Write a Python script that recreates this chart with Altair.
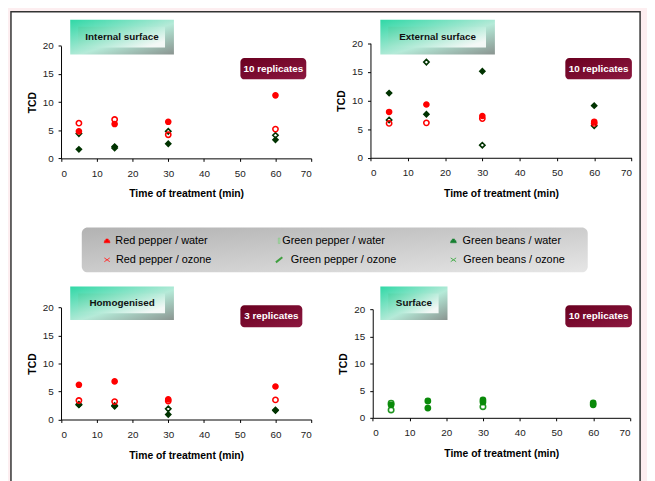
import altair as alt
import pandas as pd

W, H = 647, 473
FONT = "Arial, 'Liberation Sans', sans-serif"

# ---------------- data ----------------
times = [5, 15, 30, 60]

int_rp_water = [4.8, 6.1, 6.5, 11.2]
int_rp_ozone = [6.25, 6.9, 4.2, 5.2]
int_gp_water = [1.6, 2.1, 2.6, 3.3]
int_gp_ozone = [4.4, 1.85, 4.8, 4.1]

ext_rp_water = [8.0, 9.3, 7.3, 6.3]
ext_rp_ozone = [6.0, 6.1, 6.85, 6.0]
ext_gp_water = [11.3, 7.6, 15.1, 9.1]
ext_gp_ozone = [6.6, 16.7, 2.2, 5.6]

hom_rp_water = [6.2, 6.8, 3.6, 5.9]
hom_rp_ozone = [3.4, 3.2, 3.3, 3.5]
hom_gp_water = [2.6, 2.35, 0.9, 1.6]
hom_gp_ozone = [2.7, 2.5, 1.9, 1.7]

surf_gb_water_times = [5, 15, 15, 30, 30, 60, 60]
surf_gb_water = [2.4, 3.1, 1.8, 3.3, 2.9, 2.75, 2.4]
surf_gb_ozone_times = [5, 5, 30]
surf_gb_ozone = [2.7, 1.45, 2.05]

panel_names = ["Internal surface", "External surface", "Homogenised", "Surface"]
replicates = ["10 replicates", "10 replicates", "3 replicates", "10 replicates"]

series_names = ["Red pepper / water", "Green pepper / water", "Green beans / water",
                "Red pepper / ozone", "Green pepper / ozone", "Green beans / ozone"]

rows = []
def add(panel, series, ts, vs):
    for t, v in zip(ts, vs):
        rows.append({"panel": panel, "series": series, "time": t, "tcd": v})

add("Internal surface", "Green pepper / water", times, int_gp_water)
add("Internal surface", "Green pepper / ozone", times, int_gp_ozone)
add("Internal surface", "Red pepper / ozone", times, int_rp_ozone)
add("Internal surface", "Red pepper / water", times, int_rp_water)
add("External surface", "Green pepper / water", times, ext_gp_water)
add("External surface", "Green pepper / ozone", times, ext_gp_ozone)
add("External surface", "Red pepper / ozone", times, ext_rp_ozone)
add("External surface", "Red pepper / water", times, ext_rp_water)
add("Homogenised", "Green pepper / ozone", times, hom_gp_ozone)
add("Homogenised", "Green pepper / water", times, hom_gp_water)
add("Homogenised", "Red pepper / ozone", times, hom_rp_ozone)
add("Homogenised", "Red pepper / water", times, hom_rp_water)
add("Surface", "Green beans / ozone", surf_gb_ozone_times, surf_gb_ozone)
add("Surface", "Green beans / water", surf_gb_water_times, surf_gb_water)
df = pd.DataFrame(rows)

# ---------------- styles ----------------
stroke_range = ["#ff0000", "#003300", "#0a8a0a", "#ff0000", "#003300", "#1f951f"]
fill_range = ["#ff0000", "#003300", "#0a8a0a", "transparent", "transparent", "transparent"]
shape_range = ["circle", "diamond", "circle", "circle", "diamond", "circle"]
size_range = [26, 30, 26, 26, 28, 26]

# panel geometry (view coords): x range, y range (bottom, top)
geom = {
    "Internal surface": ([53.7, 307.0], [149.3, 35.3]),
    "External surface": ([367.0, 631.3], [148.7, 32.7]),
    "Homogenised": ([53.7, 307.0], [413.7, 300.3]),
    "Surface": ([369.3, 629.7], [412.0, 302.0]),
}

axis_common = dict(grid=False, zindex=1, domainColor="#000000", domainWidth=1,
                   tickColor="#000000", tickSize=3, labelFont=FONT, labelFontSize=10,
                   labelColor="#222222", titleFont=FONT, titleFontSize=10.5,
                   titleFontWeight="bold", titleColor="#000000")


def panel_chart(name):
    xr, yr = geom[name]
    d = df[df.panel == name]
    return alt.Chart(d).mark_point(opacity=1, strokeWidth=1.6).encode(
        x=alt.X("time:Q",
                scale=alt.Scale(domain=[0, 70], range=xr, nice=False, zero=False),
                axis=alt.Axis(orient="bottom", offset=yr[0] - H, values=list(range(0, 71, 10)),
                              title="Time of treatment (min)", labelPadding=7, titlePadding=11,
                              **axis_common)),
        y=alt.Y("tcd:Q",
                scale=alt.Scale(domain=[0, 20], range=yr, nice=False, zero=False),
                axis=alt.Axis(orient="left", offset=-xr[0], values=[0, 5, 10, 15, 20],
                              title="TCD", labelPadding=5, titlePadding=5, **axis_common)),
        color=alt.Color("series:N", scale=alt.Scale(domain=series_names, range=stroke_range), legend=None),
        fill=alt.Fill("series:N", scale=alt.Scale(domain=series_names, range=fill_range), legend=None),
        shape=alt.Shape("series:N", scale=alt.Scale(domain=series_names, range=shape_range), legend=None),
        size=alt.Size("series:N", scale=alt.Scale(domain=series_names, range=size_range), legend=None),
    )


one = pd.DataFrame({"v": [0]})

# white framed panel
frame = alt.Chart(one).mark_rect(fill="white", stroke="#333333", strokeWidth=1.5).encode(
    x=alt.value(3), x2=alt.value(640), y=alt.value(0.8), y2=alt.value(490))

# title boxes
tb = pd.DataFrame({
    "label": panel_names,
    "bx": [63.0, 377.0, 63.0, 377.0], "bx2": [168.0, 493.0, 168.0, 445.0],
    "by": [9.0, 9.0, 279.0, 279.0], "by2": [44.0, 44.0, 313.0, 313.0]})

bevel_grad = alt.LinearGradient(gradient="linear", x1=0, y1=0, x2=1, y2=1, stops=[
    alt.GradientStop(color="#2fd8a6", offset=0),
    alt.GradientStop(color="#b5ead8", offset=0.55),
    alt.GradientStop(color="#8a9490", offset=1)])
face_grad = alt.LinearGradient(gradient="linear", x1=0, y1=0, x2=1, y2=0.7, stops=[
    alt.GradientStop(color="#4fd6a8", offset=0),
    alt.GradientStop(color="#f3f8f6", offset=1)])

tb_base = alt.Chart(tb)
tb_outer = tb_base.mark_rect(fill=bevel_grad).encode(
    x=alt.X("bx:Q", scale=None, axis=None), x2="bx2:Q",
    y=alt.Y("by:Q", scale=None, axis=None), y2="by2:Q")
tb_face = tb_base.transform_calculate(
    fx="datum.bx + 8", fx2="datum.bx2 - 9", fy="datum.by + 7", fy2="datum.by2 - 7"
).mark_rect(fill=face_grad).encode(
    x=alt.X("fx:Q", scale=None, axis=None), x2="fx2:Q",
    y=alt.Y("fy:Q", scale=None, axis=None), y2="fy2:Q")
tb_text = tb_base.transform_calculate(
    cx="(datum.bx + datum.bx2) / 2", cy="(datum.by + datum.by2) / 2"
).mark_text(font=FONT, fontSize=10, fontWeight="bold", color="#111111",
            align="center", baseline="middle").encode(
    x=alt.X("cx:Q", scale=None, axis=None), y=alt.Y("cy:Q", scale=None, axis=None),
    text="label:N")

# replicate boxes
rb = pd.DataFrame({
    "label": replicates,
    "bx": [235.3, 564.3, 235.3, 564.3], "bx2": [302.0, 631.7, 298.0, 631.7],
    "by": [47.7, 47.7, 298.0, 298.0], "by2": [69.3, 69.3, 320.3, 320.3]})
rep_grad = alt.LinearGradient(gradient="linear", x1=0, y1=0, x2=1, y2=1, stops=[
    alt.GradientStop(color="#6a0020", offset=0),
    alt.GradientStop(color="#8c1840", offset=1)])
rb_base = alt.Chart(rb)
rb_rect = rb_base.mark_rect(fill=rep_grad, cornerRadius=4).encode(
    x=alt.X("bx:Q", scale=None, axis=None), x2="bx2:Q",
    y=alt.Y("by:Q", scale=None, axis=None), y2="by2:Q")
rb_text = rb_base.transform_calculate(
    cx="(datum.bx + datum.bx2) / 2", cy="(datum.by + datum.by2) / 2"
).mark_text(font=FONT, fontSize=10, fontWeight="bold", color="white",
            align="center", baseline="middle").encode(
    x=alt.X("cx:Q", scale=None, axis=None), y=alt.Y("cy:Q", scale=None, axis=None),
    text="label:N")

# legend
leg_grad = alt.LinearGradient(gradient="linear", x1=0, y1=0, x2=1, y2=1, stops=[
    alt.GradientStop(color="#b2b2b2", offset=0),
    alt.GradientStop(color="#e6e6e6", offset=1)])
leg_box = alt.Chart(one).mark_rect(fill=leg_grad, cornerRadius=6).encode(
    x=alt.value(74.7), x2=alt.value(587.0), y=alt.value(219.3), y2=alt.value(264.7))

phone = "M-1,0.7L-0.8,-0.1L-0.4,-0.1L-0.4,-0.6L0.4,-0.6L0.4,-0.1L0.8,-0.1L1,0.7Z"
cross = "M-1,-0.7L1,0.7M-1,0.7L1,-0.7"
leg = pd.DataFrame({
    "label": series_names,
    "ix": [100.3, 274.5, 451.0, 100.3, 274.5, 451.0],
    "tx": [108.7, 277.7, 460.3, 109.3, 286.3, 461.0],
    "ly": [232.7, 232.7, 232.7, 252.0, 252.0, 252.0],
    "shape": [phone, "M-0.3,-1L0.3,-1L0.3,1L-0.3,1Z", phone, cross, "M-1,0.8L1,-0.8", cross],
    "fill": ["#ff0000", "#a8d8a8", "#157f2f", "transparent", "transparent", "transparent"],
    "stroke": ["#ff0000", "#7cc07c", "#157f2f", "#ff3030", "#3f9f3f", "#4caf50"],
    "size": [36, 30, 36, 30, 42, 30],
    "sw": [0.5, 0.5, 0.5, 1.0, 2.0, 1.0],
})
leg_base = alt.Chart(leg)
leg_icons = leg_base.mark_point(opacity=1).encode(
    x=alt.X("ix:Q", scale=None, axis=None), y=alt.Y("ly:Q", scale=None, axis=None),
    shape=alt.Shape("shape:N", scale=None),
    fill=alt.Fill("fill:N", scale=None),
    stroke=alt.Stroke("stroke:N", scale=None),
    size=alt.Size("size:Q", scale=None),
    strokeWidth=alt.StrokeWidth("sw:Q", scale=None))
leg_text = leg_base.mark_text(font=FONT, fontSize=11, color="#000000", align="left",
                              baseline="middle").encode(
    x=alt.X("tx:Q", scale=None, axis=None), y=alt.Y("ly:Q", scale=None, axis=None),
    text="label:N")

layers = [frame, leg_box, leg_icons, leg_text,
          tb_outer, tb_face, tb_text, rb_rect, rb_text] + [panel_chart(n) for n in panel_names]

chart = alt.layer(*layers).resolve_scale(
    x="independent", y="independent"
).properties(
    width=W, height=H, autosize=alt.AutoSizeParams(type="none"), padding=0,
    background="#fdeef0"
).configure_view(strokeWidth=0)

chart.save("out.html", embed_options={"renderer": "svg", "actions": False})
